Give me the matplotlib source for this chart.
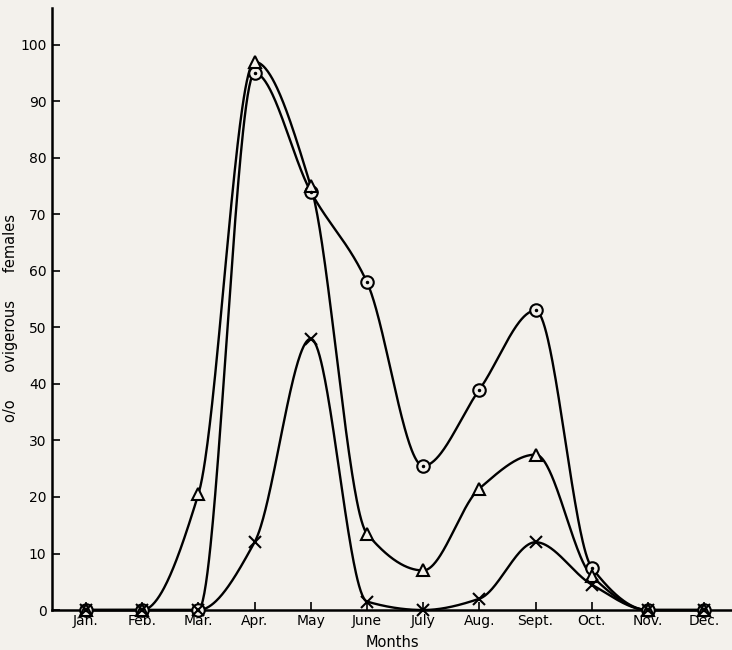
import numpy as np
import matplotlib
matplotlib.use("Agg")
import matplotlib.pyplot as plt

months = ['Jan.', 'Feb.', 'Mar.', 'Apr.', 'May', 'June', 'July',
          'Aug.', 'Sept.', 'Oct.', 'Nov.', 'Dec.']
circles = [0, 0, 0, 95, 74, 58, 25.5, 39, 53, 7.5, 0, 0]
triangles = [0, 0, 20.5, 97, 75, 13.5, 7, 21.5, 27.5, 6, 0, 0]
crosses = [0, 0, 0, 12, 48, 1.5, 0, 2, 12, 4.5, 0, 0]
yticks = list(range(0, 101, 10))


def pchip(x, y, xs):
    """Monotone cubic curve through the points (hand-drawn look)."""
    x = np.asarray(x, float)
    y = np.asarray(y, float)
    h = np.diff(x)
    delta = np.diff(y) / h
    d = np.zeros_like(y)
    for k in range(1, len(x) - 1):
        if delta[k - 1] * delta[k] > 0:
            w1 = 2 * h[k] + h[k - 1]
            w2 = h[k] + 2 * h[k - 1]
            d[k] = (w1 + w2) / (w1 / delta[k - 1] + w2 / delta[k])
    d[0] = delta[0]
    d[-1] = delta[-1]
    idx = np.clip(np.searchsorted(x, xs) - 1, 0, len(x) - 2)
    t = (xs - x[idx]) / h[idx]
    h00 = 2 * t**3 - 3 * t**2 + 1
    h10 = t**3 - 2 * t**2 + t
    h01 = -2 * t**3 + 3 * t**2
    h11 = t**3 - t**2
    return (h00 * y[idx] + h10 * h[idx] * d[idx]
            + h01 * y[idx + 1] + h11 * h[idx] * d[idx + 1])


bg = '#f3f1ec'
fig = plt.figure(figsize=(7.32, 6.5), dpi=100, facecolor=bg)
ax = fig.add_axes([0.071, 0.0615, 0.929, 0.926], facecolor=bg)

x = np.arange(len(months))
xs = np.linspace(0, len(months) - 1, 800)

for vals, mk in [(circles, 'o'), (triangles, '^'), (crosses, 'x')]:
    ax.plot(xs, np.maximum(pchip(x, vals, xs), 0), color='black', lw=1.7,
            clip_on=False, zorder=3)
    if mk == 'x':
        ax.plot(x, vals, 'x', color='black', ms=9, mew=1.5, clip_on=False, zorder=4)
    else:
        ax.plot(x, vals, mk, color='black', ms=9, mfc=bg, mew=1.5,
                clip_on=False, zorder=4)
    if mk == 'o':
        ax.plot(x, vals, '.', color='black', ms=3, clip_on=False, zorder=5)

ax.set_xlim(-0.605, 11.495)
ax.set_ylim(0, 106.5)
ax.set_xticks(x)
ax.set_xticklabels(months)
ax.set_yticks(yticks)
ax.set_yticklabels([str(v) for v in yticks])

for s in ['top', 'right']:
    ax.spines[s].set_visible(False)
for s in ['left', 'bottom']:
    ax.spines[s].set_linewidth(1.8)

ax.tick_params(axis='both', direction='in', length=6, width=1.2,
               labelsize=10, pad=3)
ax.tick_params(axis='y', pad=4)

ax.set_xlabel('Months', fontsize=10.5, labelpad=5)
ax.set_ylabel('o/o      ovigerous      females', fontsize=10.5)
ax.yaxis.set_label_coords(-0.05, 0.485)

fig.savefig('out.png', dpi=100, facecolor=bg)
